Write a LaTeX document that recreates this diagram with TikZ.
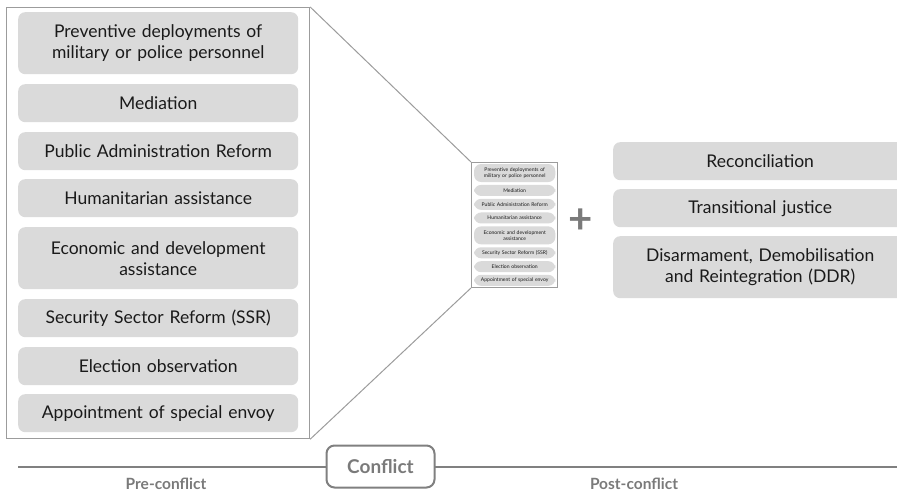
\documentclass[tikz,border=0pt]{standalone}
\usepackage{fontspec}
\setmainfont{Lato}
\definecolor{itemfill}{HTML}{DADADA}
\definecolor{itemtext}{HTML}{1A1A1A}
\definecolor{framegray}{HTML}{9C9C9C}
\definecolor{linegray}{HTML}{808080}
\definecolor{labelgray}{HTML}{7A7A7A}
\tikzset{
  itembox/.style={fill=itemfill, rounded corners=7pt, text=itemtext, align=center,
     inner sep=0pt, anchor=north west, font=\fontsize{17.5}{21}\selectfont, text width=#1},
  itembox/.default={280pt},
  framebox/.style={draw=framegray, line width=1.2pt, inner sep=0pt, anchor=north west},
  zoomline/.style={draw=framegray, line width=1pt},
  phaselabel/.style={text=labelgray, font=\fontsize{15.5}{17}\bfseries\selectfont},
}
\newcommand{\itemlist}[1]{%
  \node[itembox, minimum height=62pt] (#1a) at (18,12) {Preventive deployments of\\military or police personnel};
  \node[itembox, minimum height=38pt] (#1b) at (18,84) {Mediation};
  \node[itembox, minimum height=38pt] (#1c) at (18,132) {Public Administration Reform};
  \node[itembox, minimum height=38pt] (#1d) at (18,179) {Humanitarian assistance};
  \node[itembox, minimum height=62pt] (#1e) at (18,227) {Economic and development\\assistance};
  \node[itembox, minimum height=38pt] (#1f) at (18,299) {Security Sector Reform (SSR)};
  \node[itembox, minimum height=38pt] (#1g) at (18,347) {Election observation};
  \node[itembox, minimum height=38pt] (#1h) at (18,394) {Appointment of special envoy};
}
\begin{document}
\begin{tikzpicture}[x=1pt, y=-1pt]
\useasboundingbox (0,0) rectangle (897,494);
% big frame
\node[framebox, minimum width=303pt, minimum height=431pt] (frame) at (6,7) {};
\itemlist{big}
% mini frame
\node[framebox, line width=1pt, minimum width=86pt, minimum height=125pt, fill=white] (mini) at (471,162) {};
\begin{scope}[shift={(468.8,160.5)}, scale=0.29, transform shape]
  \itemlist{small}
\end{scope}
% zoom lines
\draw[zoomline] (frame.north east) -- (mini.north west);
\draw[zoomline] (frame.south east) -- (mini.south west);
% plus
\node[text=labelgray, font=\fontsize{42}{42}\bfseries] (plus) at (581,221) {+};
% right boxes
\node[itembox=294pt, minimum height=38pt] (reco) at (613,142) {Reconciliation};
\node[itembox=294pt, minimum height=38pt] (tj) at (613,189) {Transitional justice};
\node[itembox=294pt, minimum height=62pt] (ddr) at (613,236) {Disarmament, Demobilisation\\and Reintegration (DDR)};
% timeline
\coordinate (tlstart) at (18,467);
\coordinate (tlend) at (897,467);
\draw[linegray, line width=2.5pt] (tlstart) -- (tlend);
\node[draw=linegray, line width=2pt, rounded corners=8pt, fill=white, minimum width=108pt, minimum height=42pt,
      text=labelgray, font=\fontsize{19}{21}\bfseries\selectfont] (conflict) at (380.5,466.5) {Conflict};
\node[phaselabel] (pre) at (166,484) {Pre-conflict};
\node[phaselabel] (post) at (634,484) {Post-conflict};
\end{tikzpicture}
\end{document}
